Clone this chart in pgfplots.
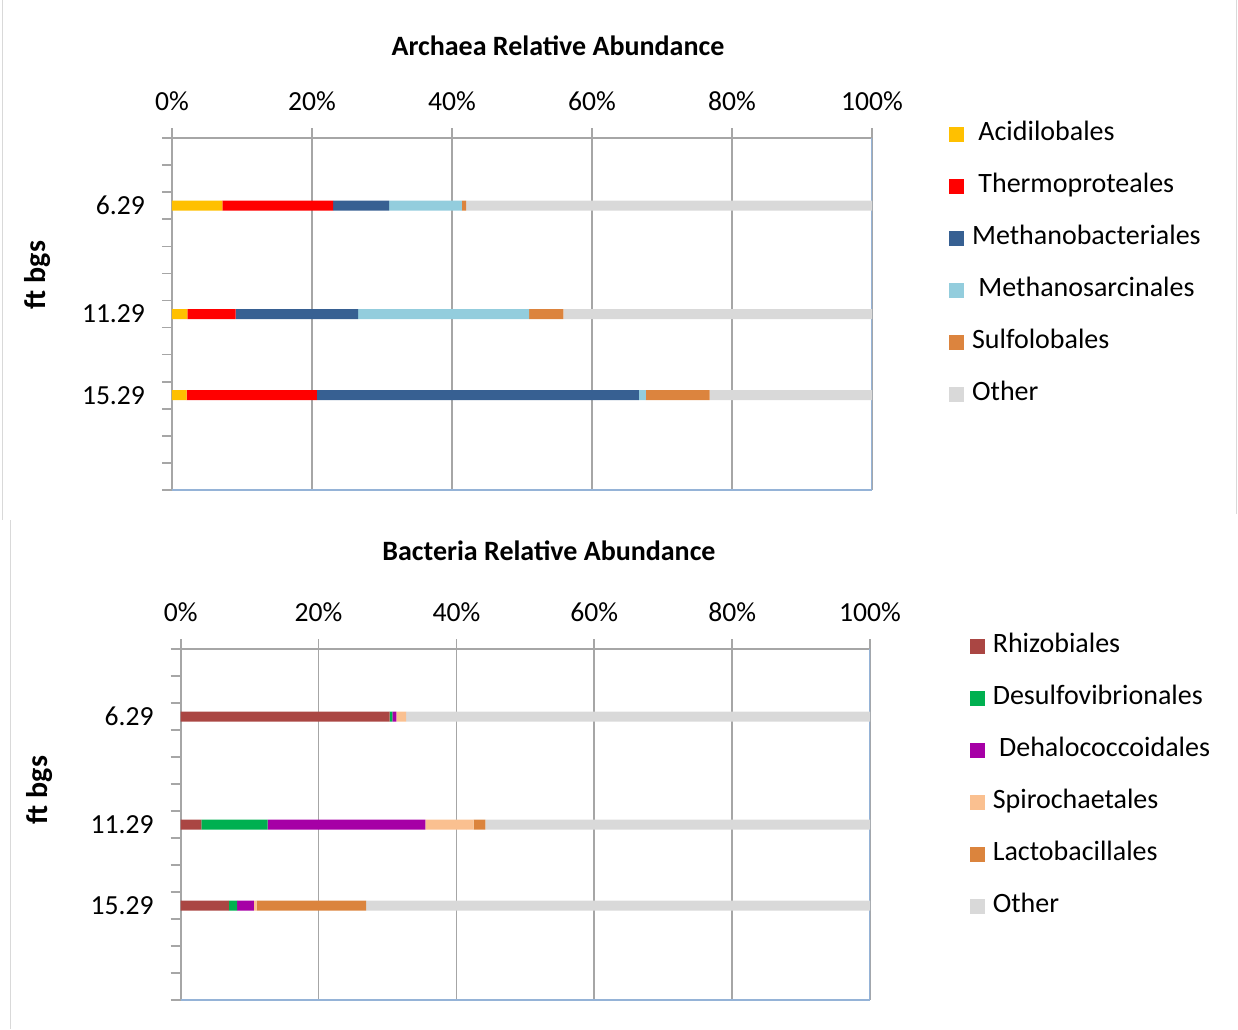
\documentclass[border=0pt]{standalone}
\usepackage{pgfplots}
\pgfplotsset{compat=1.18}
\usepackage{fontspec}
\setmainfont{Carlito}
\definecolor{cAcid}{HTML}{FFC000}
\definecolor{cTherm}{HTML}{FF0000}
\definecolor{cMB}{HTML}{376092}
\definecolor{cMS}{HTML}{93CDDD}
\definecolor{cSulf}{HTML}{DC843E}
\definecolor{cOther}{HTML}{D9D9D9}
\definecolor{cRhiz}{HTML}{AA4643}
\definecolor{cDesul}{HTML}{00B050}
\definecolor{cDehal}{HTML}{A600A6}
\definecolor{cSpir}{HTML}{FAC090}
\definecolor{cLact}{HTML}{DB843D}
\definecolor{gridgray}{HTML}{A6A6A6}
\definecolor{edgeblue}{HTML}{95B3D7}
\definecolor{framegray}{HTML}{D9D9D9}

\pgfplotsset{
  abund/.style={
    xbar stacked, scale only axis,
    xmin=0, xmax=100, ymin=-0.5, ymax=12.5, y dir=reverse,
    axis x line*=top, axis y line*=left,
    axis line style={draw=gridgray, line width=0.8pt},
    xtick={0,20,40,60,80,100},
    xticklabels={0\%,20\%,40\%,60\%,80\%,100\%},
    xmajorgrids, major grid style={gridgray, line width=0.8pt},
    ytick={2,6,9}, yticklabels={6.29,11.29,15.29},
    minor ytick={-0.5,0.5,1.5,2.5,3.5,4.5,5.5,6.5,7.5,8.5,9.5,10.5,11.5,12.5},
    tick align=outside, major tick length=5pt, minor tick length=5pt,
    every major y tick/.style={draw=none},
    every minor y tick/.style={gridgray, line width=0.8pt},
    every major x tick/.style={gridgray, line width=0.8pt},
    tick label style={font=\fontsize{13.8}{16}\selectfont},
    xticklabel style={yshift=5pt},
    yticklabel style={xshift=-5pt},
    /pgf/number format/assume math mode=true,
    bar width=5pt,
    every axis plot/.append style={draw=none},
    legend cell align=left,
    legend image code/.code={\fill[##1] (0pt,-3.75pt) rectangle (7.5pt,3.75pt);},
    legend style={draw=none, fill=none, anchor=north west,
      font=\fontsize{14}{16}\selectfont, row sep=14pt,
      nodes={inner sep=0pt, text height=9pt, text depth=3pt},
      /tikz/every odd column/.append style={column sep=4pt}},
  }
}

\begin{document}
\begin{tikzpicture}
\useasboundingbox (0pt,0pt) rectangle (619pt,-514.5pt);
\draw[framegray, line width=0.5pt] (1pt,0pt) -- (1pt,-260pt);
\draw[framegray, line width=0.5pt] (618pt,0pt) -- (618pt,-257pt);
\draw[framegray, line width=0.5pt] (5pt,-260pt) -- (5pt,-514.5pt);

% ---------- Archaea ----------
\begin{axis}[abund,
  at={(86pt,-245pt)}, anchor=south west,
  width=350pt, height=176pt,
  legend style={at={(1.101,1.056)}}]
\addplot[fill=cAcid] coordinates {(7.2,2) (2.2,6) (2.1,9)};
\addlegendentry{\ Acidilobales}
\addplot[fill=cTherm] coordinates {(15.8,2) (6.9,6) (18.6,9)};
\addlegendentry{\ Thermoproteales}
\addplot[fill=cMB] coordinates {(8.0,2) (17.5,6) (46.0,9)};
\addlegendentry{Methanobacteriales}
\addplot[fill=cMS] coordinates {(10.4,2) (24.4,6) (1.0,9)};
\addlegendentry{\ Methanosarcinales}
\addplot[fill=cSulf] coordinates {(0.6,2) (4.9,6) (9.1,9)};
\addlegendentry{Sulfolobales}
\addplot[fill=cOther] coordinates {(58.0,2) (44.1,6) (23.2,9)};
\addlegendentry{Other}
\draw[edgeblue, line width=0.8pt] (axis description cs:1,0) -- (axis description cs:1,1);
\draw[edgeblue, line width=0.8pt] (axis description cs:0,0) -- (axis description cs:1,0);
\end{axis}
\node[font=\bfseries\fontsize{14}{16}\selectfont] at (279pt,-23pt) {Archaea Relative Abundance};
\node[font=\bfseries\fontsize{15}{17}\selectfont, rotate=90] at (19pt,-137.5pt) {ft bgs};

% ---------- Bacteria ----------
\begin{axis}[abund,
  at={(90.35pt,-500pt)}, anchor=south west,
  width=344.65pt, height=175.5pt,
  legend style={at={(1.1355,1.054)}}]
\addplot[fill=cRhiz] coordinates {(30.3,2) (3.0,6) (7.0,9)};
\addlegendentry{Rhizobiales}
\addplot[fill=cDesul] coordinates {(0.4,2) (9.6,6) (1.2,9)};
\addlegendentry{Desulfovibrionales}
\addplot[fill=cDehal] coordinates {(0.6,2) (22.9,6) (2.4,9)};
\addlegendentry{\ Dehalococcoidales}
\addplot[fill=cSpir] coordinates {(1.4,2) (7.0,6) (0.4,9)};
\addlegendentry{Spirochaetales}
\addplot[fill=cLact] coordinates {(0.0,2) (1.7,6) (15.9,9)};
\addlegendentry{Lactobacillales}
\addplot[fill=cOther] coordinates {(67.3,2) (55.8,6) (73.1,9)};
\addlegendentry{Other}
\draw[edgeblue, line width=0.8pt] (axis description cs:1,0) -- (axis description cs:1,1);
\draw[edgeblue, line width=0.8pt] (axis description cs:0,0) -- (axis description cs:1,0);
\end{axis}
\node[font=\bfseries\fontsize{14}{16}\selectfont] at (274.5pt,-275.5pt) {Bacteria Relative Abundance};
\node[font=\bfseries\fontsize{15}{17}\selectfont, rotate=90] at (20pt,-395pt) {ft bgs};
\end{tikzpicture}
\end{document}
